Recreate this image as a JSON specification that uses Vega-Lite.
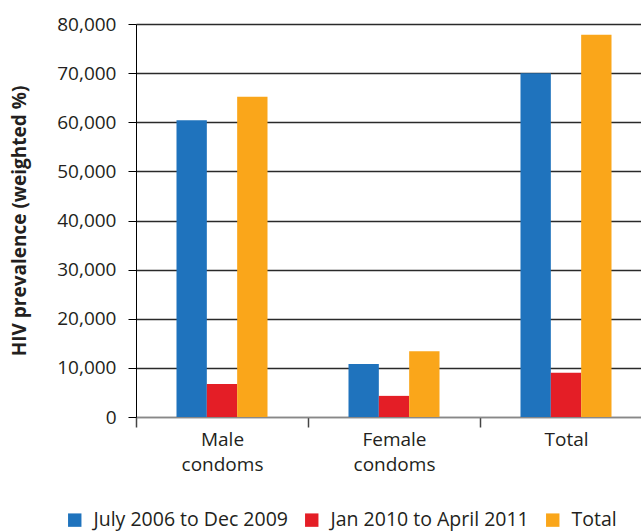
{
  "$schema": "https://vega.github.io/schema/vega-lite/v6.json",
  "autosize": "none",
  "width": 505,
  "height": 393,
  "padding": {"left": 136, "top": 24, "right": 0, "bottom": 114},
  "background": "white",
  "config": {
    "font": "Open Sans",
    "view": {"stroke": null},
    "axis": {"labelColor": "#231f20", "titleColor": "#231f20"},
    "legend": {"labelColor": "#231f20"}
  },
  "data": {
    "values": [
      {"category": "Male condoms", "series": "July 2006 to Dec 2009", "value": 60400},
      {"category": "Male condoms", "series": "Jan 2010 to April 2011", "value": 6700},
      {"category": "Male condoms", "series": "Total", "value": 65200},
      {"category": "Female condoms", "series": "July 2006 to Dec 2009", "value": 10800},
      {"category": "Female condoms", "series": "Jan 2010 to April 2011", "value": 4300},
      {"category": "Female condoms", "series": "Total", "value": 13400},
      {"category": "Total", "series": "July 2006 to Dec 2009", "value": 70000},
      {"category": "Total", "series": "Jan 2010 to April 2011", "value": 9000},
      {"category": "Total", "series": "Total", "value": 77800}
    ]
  },
  "mark": {"type": "bar"},
  "encoding": {
    "x": {
      "field": "category",
      "type": "nominal",
      "sort": ["Male condoms", "Female condoms", "Total"],
      "scale": {"range": [0, 516], "paddingInner": 0, "paddingOuter": 0},
      "axis": {
        "title": null,
        "labelAngle": 0,
        "labelExpr": "split(datum.label, ' ')",
        "labelFontSize": 19,
        "labelLineHeight": 25,
        "labelBaseline": "top",
        "labelPadding": 3,
        "tickBand": "extent",
        "tickSize": 10,
        "tickColor": "#444",
        "tickWidth": 1.5,
        "domainColor": "#888",
        "domainWidth": 1.5
      }
    },
    "xOffset": {
      "field": "series",
      "type": "nominal",
      "sort": ["July 2006 to Dec 2009", "Jan 2010 to April 2011", "Total"],
      "scale": {"range": [40.5, 131.5], "paddingInner": 0, "paddingOuter": 0}
    },
    "y": {
      "field": "value",
      "type": "quantitative",
      "scale": {"domain": [0, 80000], "nice": false},
      "axis": {
        "title": "HIV prevalence (weighted %)",
        "titleFontSize": 19,
        "titleFontWeight": "bold",
        "titlePadding": 27,
        "values": [0, 10000, 20000, 30000, 40000, 50000, 60000, 70000, 80000],
        "format": ",.0f",
        "labelFontSize": 19,
        "labelPadding": 12,
        "tickSize": 8,
        "tickColor": "#000",
        "domainColor": "#000",
        "grid": true,
        "gridColor": {"condition": {"test": "datum.value === 0", "value": "#888"}, "value": "#2a2a2a"},
        "gridWidth": 1.5
      }
    },
    "color": {
      "field": "series",
      "type": "nominal",
      "sort": ["July 2006 to Dec 2009", "Jan 2010 to April 2011", "Total"],
      "scale": {"range": ["#1f73bd", "#e41e26", "#faa61a"]},
      "legend": {
        "title": null,
        "orient": "none",
        "direction": "horizontal",
        "legendX": -71,
        "legendY": 486,
        "symbolType": "square",
        "symbolSize": 180,
        "symbolStrokeWidth": 0,
        "labelFontSize": 19.5,
        "labelLimit": 400,
        "columnPadding": 14,
        "labelOffset": 9
      }
    }
  }
}
